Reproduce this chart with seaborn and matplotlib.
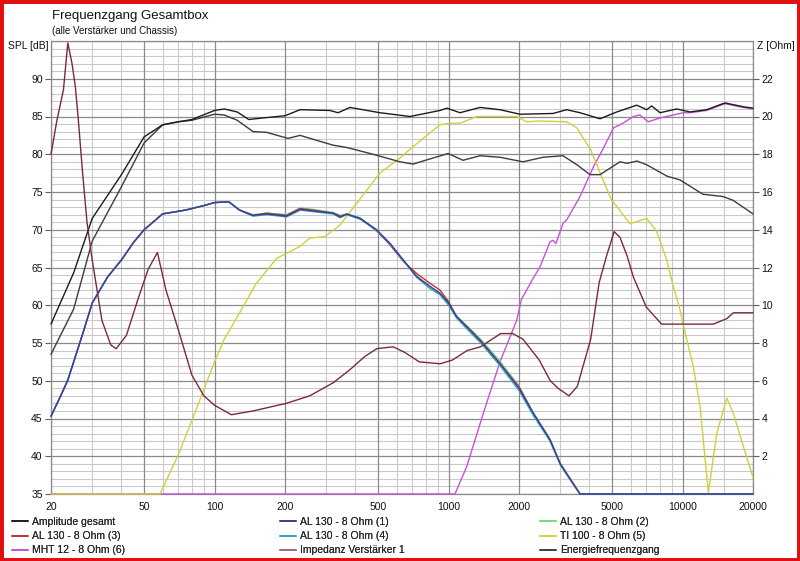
import matplotlib
matplotlib.use("Agg")
import matplotlib.pyplot as plt
import seaborn as sns
import pandas as pd
from matplotlib.lines import Line2D
from matplotlib.patches import Rectangle
from matplotlib.ticker import FixedLocator, FixedFormatter, NullLocator

# ---------------- data ----------------
f_amp = [20, 25, 30, 40, 50, 60, 70, 80, 100, 110, 125, 140, 160, 200, 232, 311, 337, 379, 509, 684,
         919, 985, 1119, 1363, 1659, 2019, 2793, 3197, 3646, 4438, 5233, 6370, 7030, 7380, 8010,
         9440, 10760, 12680, 15170, 18120, 20000]
v_amp = [57.5, 64.3, 71.5, 77.3, 82.3, 83.9, 84.3, 84.6, 85.8, 86.0, 85.6, 84.6, 84.8, 85.1, 85.9, 85.8,
         85.5, 86.2, 85.5, 85.0, 85.8, 86.1, 85.5, 86.2, 85.9, 85.3, 85.4, 85.9, 85.5, 84.7, 85.6,
         86.5, 85.9, 86.4, 85.5, 86.0, 85.6, 85.9, 86.8, 86.3, 86.1]

f_energy = [20, 25, 30, 40, 50, 60, 70, 80, 100, 110, 125, 146, 167, 206, 232, 321, 367, 475, 620, 705,
            858, 995, 1153, 1363, 1659, 2080, 2534, 3084, 3540, 4020, 4438, 5400, 5790, 6390, 7030,
            8580, 9750, 12220, 14900, 16440, 20000]
v_energy = [53.5, 59.5, 68.5, 75.7, 81.5, 83.9, 84.3, 84.5, 85.3, 85.2, 84.5, 83.0, 82.9, 82.1, 82.5,
            81.2, 80.9, 80.0, 79.0, 78.7, 79.5, 80.1, 79.2, 79.8, 79.6, 79.0, 79.6, 79.8, 78.6, 77.3,
            77.3, 79.0, 78.8, 79.1, 78.6, 77.1, 76.6, 74.7, 74.4, 73.9, 72.1]

f_al = [20, 22, 23.6, 25, 27.5, 30, 35, 40, 45, 50, 60, 75, 90, 100, 115, 128, 146, 167, 203, 232, 263,
        321, 344, 367, 419, 493, 562, 641, 731, 834, 919, 1000, 1083, 1195, 1363, 1659, 2000, 2303,
        2714, 3000, 3197, 3646, 20000]
v_al1 = [45.3, 48.0, 50.1, 52.5, 56.5, 60.3, 63.8, 66.0, 68.3, 70.0, 72.1, 72.6, 73.2, 73.6, 73.7, 72.6,
         71.9, 72.1, 71.8, 72.7, 72.5, 72.2, 71.7, 72.1, 71.5, 70.0, 68.2, 66.0, 63.8, 62.5, 61.6,
         60.3, 58.5, 57.2, 55.4, 52.3, 49.0, 45.7, 42.2, 39.0, 37.7, 35.0, 35.0]
v_al2 = [45.3, 48.0, 50.1, 52.5, 56.5, 60.3, 63.8, 66.0, 68.3, 70.0, 72.1, 72.6, 73.2, 73.6, 73.7, 72.6,
         72.0, 72.2, 72.0, 72.9, 72.7, 72.3, 71.9, 72.1, 71.6, 69.8, 68.1, 65.9, 63.9, 62.3, 61.5,
         60.2, 58.6, 57.3, 55.6, 52.6, 49.3, 45.8, 42.3, 39.1, 37.8, 35.0, 35.0]
v_al3 = [45.3, 48.0, 50.1, 52.5, 56.5, 60.3, 63.8, 66.0, 68.3, 70.0, 72.1, 72.6, 73.2, 73.6, 73.7, 72.6,
         71.9, 72.2, 71.9, 72.8, 72.6, 72.2, 71.8, 72.0, 71.5, 69.9, 68.0, 65.8, 64.2, 62.9, 62.0,
         60.5, 58.4, 57.1, 55.3, 52.2, 49.2, 45.6, 42.1, 39.0, 37.6, 35.0, 35.0]
v_al4 = [45.3, 48.0, 50.1, 52.5, 56.5, 60.3, 63.8, 66.0, 68.3, 70.0, 72.1, 72.6, 73.2, 73.6, 73.7, 72.6,
         71.8, 72.0, 71.7, 72.6, 72.4, 72.1, 71.6, 72.0, 71.4, 69.9, 68.1, 65.9, 63.7, 62.2, 61.4,
         60.0, 58.3, 56.9, 55.1, 52.0, 48.7, 45.4, 42.0, 38.9, 37.6, 35.0, 35.0]

f_ti = [20, 58.5, 70, 80.6, 86.6, 100, 110, 128, 150, 184, 232, 255, 296, 343, 405, 509, 620, 705, 919,
        1015, 1119, 1319, 1659, 1955, 2158, 2460, 3197, 3530, 4050, 4570, 4980, 5233, 5960, 7030,
        7750, 8560, 9130, 9750, 10070, 11110, 11880, 12890, 14000, 15450, 16470, 18790, 20000]
v_ti = [35.0, 35.0, 40.2, 45.0, 47.5, 52.5, 55.5, 59.0, 62.8, 66.2, 67.8, 68.9, 69.1, 70.6, 73.5, 77.5,
        79.5, 81.0, 83.9, 84.1, 84.1, 85.0, 85.0, 85.0, 84.3, 84.4, 84.3, 83.5, 80.6, 76.6, 73.9,
        73.1, 70.8, 71.5, 69.8, 66.0, 62.5, 59.4, 57.4, 51.9, 46.6, 35.2, 43.0, 47.7, 45.7, 39.9,
        37.2]

f_mht = [20, 1065, 1195, 1408, 1659, 1955, 2050, 2303, 2460, 2714, 2793, 2877, 3090, 3197, 3646, 4170,
         4590, 5070, 5560, 6160, 6570, 7120, 8010, 9130, 10070, 10760, 12680, 15170, 18120, 20000]
v_mht = [35.0, 35.0, 38.6, 45.7, 52.5, 58.0, 60.8, 63.6, 65.1, 68.4, 68.6, 68.2, 70.9, 71.3, 74.4, 78.4,
         80.8, 83.5, 84.1, 85.0, 85.2, 84.3, 84.8, 85.2, 85.5, 85.5, 85.8, 86.7, 86.2, 86.0]

f_imp = [20, 21.2, 22.6, 23.6, 24.6, 25.4, 26.1, 27.3, 28.5, 30, 33, 36, 38, 42, 47, 52, 57, 62, 70, 80,
         90, 100, 118, 146, 202, 255, 322, 380, 440, 494, 580, 650, 750, 920, 1040, 1200, 1370, 1670,
         1880, 2080, 2440, 2720, 2940, 3270, 3550, 4050, 4400, 4730, 5100, 5400, 5800, 6160, 7000,
         8140, 10070, 13530, 15500, 16480, 20000]
v_imp = [18.0, 19.8, 21.4, 23.9, 22.8, 21.6, 20.0, 17.0, 14.4, 12.4, 9.2, 7.9, 7.7, 8.4, 10.3, 11.9,
         12.8, 10.8, 8.7, 6.3, 5.2, 4.7, 4.2, 4.4, 4.8, 5.2, 5.9, 6.6, 7.3, 7.7, 7.8, 7.5, 7.0, 6.9,
         7.1, 7.6, 7.8, 8.5, 8.5, 8.2, 7.1, 6.0, 5.6, 5.2, 5.7, 8.2, 11.2, 12.6, 13.9, 13.6, 12.6,
         11.5, 9.9, 9.0, 9.0, 9.0, 9.3, 9.6, 9.6]

labels = ["Amplitude gesamt", "AL 130 - 8 Ohm (1)", "AL 130 - 8 Ohm (2)",
          "AL 130 - 8 Ohm (3)", "AL 130 - 8 Ohm (4)", "TI 100 - 8 Ohm (5)",
          "MHT 12 - 8 Ohm (6)", "Impedanz Verstärker 1", "Energiefrequenzgang"]
x_major = [20, 50, 100, 200, 500, 1000, 2000, 5000, 10000, 20000]
x_minor = [30, 40, 60, 70, 80, 90, 300, 400, 600, 700, 800, 900, 3000, 4000, 6000, 7000, 8000, 9000, 15000]
spl_ticks = [35, 40, 45, 50, 55, 60, 65, 70, 75, 80, 85, 90]
z_ticks = [2, 4, 6, 8, 10, 12, 14, 16, 18, 20, 22]

# ---------------- style ----------------
sns.set_style("white")
plt.rcParams['font.family'] = ['Liberation Sans', 'DejaVu Sans']

C = {
    "amp": "#1c1c1c", "al1": "#3a3aa0", "al2": "#7ad67a", "al3": "#c83030", "al4": "#30a6b6",
    "ti": "#d2cf3e", "mht": "#c653d6", "imp": "#7a2a3c", "energy": "#3c3c3c",
}
MAJ = "#8a8a8a"
MIN = "#c9c9c9"
FS = 7.5

fig = plt.figure(figsize=(8, 5.61), dpi=100)
W, H = 800, 561
ax = fig.add_axes([51 / W, 1 - 494 / H, (753 - 51) / W, (494 - 41) / H])
ax.set_xscale("log")

def draw(a, f, v, col, z=3):
    df = pd.DataFrame({"f": f, "v": v})
    sns.lineplot(data=df, x="f", y="v", ax=a, color=col, lw=1.0, legend=False,
                 estimator=None, sort=False, zorder=z, clip_on=False)

draw(ax, f_mht, v_mht, C["mht"])
draw(ax, f_ti, v_ti, C["ti"])
draw(ax, f_al, v_al2, C["al2"])
draw(ax, f_al, v_al3, C["al3"])
draw(ax, f_al, v_al4, C["al4"])
draw(ax, f_al, v_al1, C["al1"], z=3.2)
draw(ax, f_energy, v_energy, C["energy"])
draw(ax, f_amp, v_amp, C["amp"])

ax.set_xlim(20, 20000)
ax.set_ylim(35, 95)
ax.set_xlabel("")
ax.set_ylabel("")

# grid
for xv in x_minor:
    ax.axvline(xv, color=MIN, lw=0.8, zorder=0.5)
for xv in x_major:
    ax.axvline(xv, color=MAJ, lw=0.9, zorder=0.6)
for yv in range(36, 95):
    if yv % 5:
        ax.axhline(yv, color=MIN, lw=0.8, zorder=0.5)
for yv in range(35, 96, 5):
    ax.axhline(yv, color=MAJ, lw=0.9, zorder=0.6)

for s in ax.spines.values():
    s.set_color(MAJ)
    s.set_linewidth(0.9)
    s.set_zorder(1)

ax2 = ax.twinx()
draw(ax2, f_imp, v_imp, C["imp"])
ax2.set_ylim(0, 24)
ax2.set_ylabel("")
ax2.set_yticks(z_ticks)
ax2.set_yticklabels([str(v) for v in z_ticks])
ax2.tick_params(axis="y", length=4, width=0.8, color="#606060", labelsize=FS, pad=2,
                labelcolor="#111111")
for s in ax2.spines.values():
    s.set_visible(False)

# x ticks (after twinx so they are not reset)
ax.set_xlim(20, 20000)
ax.xaxis.set_major_locator(FixedLocator(x_major))
ax.xaxis.set_major_formatter(FixedFormatter([str(v) for v in x_major]))
ax.xaxis.set_minor_locator(NullLocator())
ax.set_yticks(spl_ticks)
ax.set_yticklabels([str(v) for v in spl_ticks])
ax.yaxis.set_minor_locator(NullLocator())
ax.tick_params(axis="both", which="major", length=4, width=0.8, color="#606060",
               labelsize=FS, pad=2, labelcolor="#111111")
ax2.xaxis.set_minor_locator(NullLocator())
ax2.yaxis.set_minor_locator(NullLocator())

# texts
fig.text(52 / W, 1 - 16 / H, "Frequenzgang Gesamtbox", fontsize=9.5, va="center", ha="left", color="#111111")
fig.text(52 / W, 1 - 31 / H, "(alle Verstärker und Chassis)", fontsize=7, va="center", ha="left", color="#111111")
fig.text(8 / W, 1 - 46 / H, "SPL [dB]", fontsize=FS, va="center", ha="left", color="#111111")
fig.text(757 / W, 1 - 46 / H, "Z [Ohm]", fontsize=FS, va="center", ha="left", color="#111111")

# legend: three columns, each its own legend placed at the reference x positions
cols = [C["amp"], C["al1"], C["al2"], C["al3"], C["al4"], C["ti"], C["mht"], "#9a6a6a", C["energy"]]
handles = [Line2D([], [], color=c, lw=1.2) for c in cols]
col_x = [12, 280, 540]
for ci in range(3):
    idx = [ci, ci + 3, ci + 6]
    lg = fig.legend([handles[i] for i in idx], [labels[i] for i in idx], ncol=1,
                    loc="upper left", bbox_to_anchor=(col_x[ci] / W, 1 - 517 / H),
                    bbox_transform=fig.transFigure, frameon=False, fontsize=FS, handlelength=1.5,
                    handletextpad=0.4, labelspacing=0.4, borderaxespad=0, borderpad=0)
    fig.add_artist(lg)

fig.add_artist(Rectangle((0, 0), 1, 1, transform=fig.transFigure, fill=False,
                         ec="#e01010", lw=5, zorder=10))

fig.savefig("out.png", dpi=100)
